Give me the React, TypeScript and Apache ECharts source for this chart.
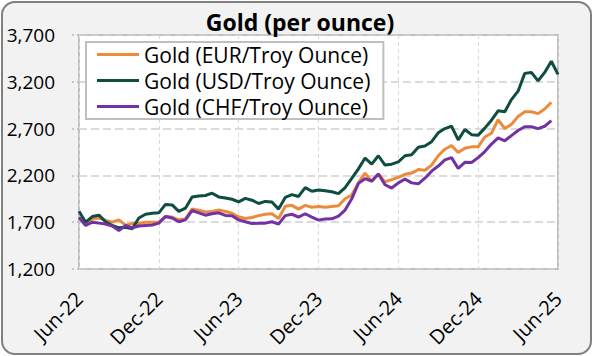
import React, { useEffect, useRef } from "react";
import * as echarts from "echarts";

// x positions are half-month steps starting Jun-22 (index * 0.5 months)
const xTickLabels = ["Jun-22", "Dec-22", "Jun-23", "Dec-23", "Jun-24", "Dec-24", "Jun-25"];

const usdValues = [
  1818, 1700, 1760, 1775, 1705, 1665, 1640, 1645, 1630, 1745, 1785, 1795, 1800, 1890, 1885, 1815, 1850, 1970, 1980,
  1985, 2010, 1970, 1958, 1945, 1918, 1955, 1935, 1900, 1922, 1915, 1840, 1965, 1995, 1975, 2070, 2030,
  2045, 2035, 2025, 2005, 2070, 2168, 2270, 2385, 2320, 2410, 2310, 2320, 2345, 2410, 2420, 2500, 2515, 2560,
  2655, 2700, 2725, 2580, 2690, 2635, 2630, 2705, 2790, 2890, 2880, 3010, 3100, 3290, 3300, 3210, 3300, 3420, 3280,
];

const eurValues = [
  1745, 1695, 1735, 1745, 1720, 1700, 1725, 1668, 1685, 1685, 1700, 1700, 1700, 1762, 1755, 1725, 1735, 1840, 1828,
  1810, 1815, 1830, 1815, 1795, 1758, 1740, 1750, 1770, 1785, 1790, 1740, 1870, 1880, 1840, 1880, 1860,
  1868, 1860, 1868, 1875, 1950, 1990, 2120, 2225, 2135, 2215, 2130, 2155, 2180, 2212, 2225, 2262, 2255, 2310,
  2410, 2480, 2520, 2445, 2490, 2505, 2505, 2610, 2650, 2795, 2700, 2745, 2830, 2880, 2880, 2860, 2910, 2980,
];

const chfValues = [
  1750, 1665, 1700, 1690, 1680, 1660, 1610, 1665, 1640, 1660, 1665, 1670, 1690, 1760, 1745, 1705, 1725, 1825, 1800,
  1775, 1790, 1800, 1772, 1770, 1725, 1705, 1685, 1690, 1690, 1705, 1680, 1770, 1785, 1755, 1790, 1755,
  1722, 1735, 1736, 1765, 1830, 1950, 2115, 2165, 2140, 2215, 2100, 2065, 2120, 2160, 2120, 2110, 2170, 2245,
  2300, 2365, 2390, 2275, 2340, 2338, 2390, 2455, 2535, 2600, 2570, 2625, 2680, 2720, 2720, 2700, 2725, 2785,
];

const seriesNames = ["Gold (EUR/Troy Ounce)", "Gold (USD/Troy Ounce)", "Gold (CHF/Troy Ounce)"];
const seriesColors = ["#EB8B3B", "#0E4D40", "#7232A3"];

const FONT = "'Open Sans', 'Noto Sans', sans-serif";

const toPairs = (vals: number[]) => vals.map((v, i) => [i * 0.5, v]);

export default function App() {
  const ref = useRef<HTMLDivElement>(null);

  useEffect(() => {
    if (!ref.current) return;
    const chart = echarts.init(ref.current, undefined, { renderer: "svg" });
    const allValues = [eurValues, usdValues, chfValues];
    chart.setOption({
      animation: false,
      backgroundColor: "transparent",
      title: {
        text: "Gold (per ounce)",
        left: 295,
        textAlign: "center",
        top: 5,
        textStyle: { fontSize: 23, fontWeight: "bold", fontFamily: FONT, color: "#000" },
      },
      legend: {
        orient: "vertical",
        left: 86,
        top: 42,
        icon: "rect",
        itemWidth: 42,
        itemHeight: 3,
        itemGap: 5,
        padding: [2, 13, 2, 11],
        backgroundColor: "#fff",
        borderColor: "#bfbfbf",
        borderWidth: 2,
        textStyle: { fontSize: 21, lineHeight: 21, fontFamily: FONT, color: "#000" },
        data: seriesNames,
      },
      grid: {
        left: 79,
        top: 35,
        width: 479,
        height: 234,
        show: true,
        backgroundColor: "#fff",
        borderColor: "#bfbfbf",
        borderWidth: 2,
      },
      xAxis: {
        type: "value",
        min: 0,
        max: 36,
        interval: 6,
        axisLine: { show: false },
        axisTick: { show: false },
        splitLine: { show: true, lineStyle: { color: "#d9d9d9", type: [4, 3], width: 1 } },
        axisLabel: {
          rotate: 45,
          fontSize: 20,
          fontFamily: FONT,
          color: "#000",
          margin: 26,
          formatter: (v: number) => xTickLabels[Math.round(v / 6)] ?? "",
        },
      },
      yAxis: {
        type: "value",
        min: 1200,
        max: 3700,
        interval: 500,
        axisLine: { show: false },
        axisTick: { show: true, length: 9, lineStyle: { color: "#bbbbbb", type: [2, 3], width: 1.5 } },
        splitLine: { show: true, lineStyle: { color: "#d0d0d0", type: [8, 4], width: 1.5 } },
        axisLabel: {
          fontSize: 19,
          fontFamily: FONT,
          color: "#000",
          margin: 24,
          formatter: (v: number) => v.toLocaleString("en-US"),
        },
      },
      series: seriesNames.map((name, i) => ({
        name,
        type: "line",
        data: toPairs(allValues[i]),
        symbol: "none",
        lineStyle: { width: 3, color: seriesColors[i] },
        itemStyle: { color: seriesColors[i] },
      })),
    });
    return () => chart.dispose();
  }, []);

  return (
    <div style={{ position: "absolute", left: 0, top: 0, width: 593, height: 356, background: "#fff" }}>
      <div
        style={{
          position: "absolute",
          left: 1,
          top: 1,
          width: 591,
          height: 354,
          boxSizing: "border-box",
          border: "2px solid #808080",
          borderRadius: 14,
          background: "#f2f2f2",
        }}
      />
      <div ref={ref} style={{ position: "absolute", left: 0, top: 0, width: 593, height: 356 }} />
    </div>
  );
}
